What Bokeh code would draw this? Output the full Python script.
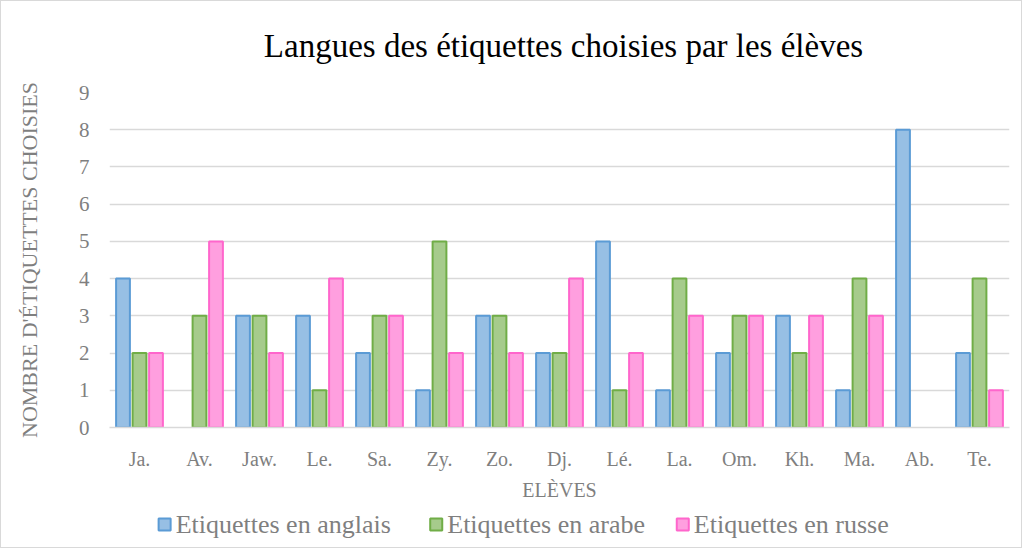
from bokeh.plotting import figure
from bokeh.models import ColumnDataSource, FactorRange
from bokeh.core.properties import value
from bokeh.layouts import column
from bokeh.transform import dodge
from bokeh.embed import file_html
from bokeh.resources import INLINE

eleves = ["Ja.", "Av.", "Jaw.", "Le.", "Sa.", "Zy.", "Zo.", "Dj.", "Lé.", "La.", "Om.", "Kh.", "Ma.", "Ab.", "Te."]
anglais = [4, 0, 3, 3, 2, 1, 3, 2, 5, 1, 2, 3, 1, 8, 2]
arabe = [2, 3, 3, 1, 3, 5, 3, 2, 1, 4, 3, 2, 4, 0, 4]
russe = [2, 5, 2, 4, 3, 2, 2, 4, 2, 3, 3, 3, 3, 0, 1]
series_names = ["Etiquettes en anglais", "Etiquettes en arabe", "Etiquettes en russe"]
title_text = "Langues des étiquettes choisies par les élèves"
y_ticks = list(range(0, 10))

FONT = "Liberation Serif"
GRAY = "#7f7f7f"
W = 1020
FRAME_X = (110, 1008)   # pixel span of the chart frame, shared by the strips

# ---- title strip ----
TH = 79
tf = figure(width=W, height=TH, output_backend="svg", toolbar_location=None,
            min_border=0, x_range=FRAME_X, y_range=(0, TH),
            x_axis_location=None, y_axis_location=None)
tf.grid.visible = False
tf.outline_line_color = None
tf.text(x=[264], y=[TH - 44], text=[title_text], text_font=value(FONT),
        text_font_size="33px", text_color="#000000",
        text_baseline="middle", text_align="left")

# ---- chart ----
p = figure(x_range=FactorRange(*eleves), y_range=(0, 9), width=W, height=423,
           output_backend="svg", toolbar_location=None,
           min_border_left=108, min_border_right=12, min_border_top=12, min_border_bottom=73)

fills = ["#97bfe4", "#a6cb8c", "#ff9fdf"]
lines = ["#5b9bd5", "#70ad47", "#ff66cc"]
offsets = [-0.275, 0.0, 0.275]

for vals, fc, lc, off in zip([anglais, arabe, russe], fills, lines, offsets):
    xs = [e for e, v in zip(eleves, vals) if v > 0]
    ys = [v for v in vals if v > 0]
    src = ColumnDataSource(dict(x=xs, top=ys))
    p.vbar(x=dodge("x", off, range=p.x_range), top="top", width=0.23, source=src,
           fill_color=fc, line_color=lc, line_width=2)

p.xgrid.grid_line_color = None
p.ygrid.grid_line_color = "#d9d9d9"
p.ygrid.grid_line_width = 1.5
p.outline_line_color = None

p.yaxis.ticker = y_ticks
p.yaxis.axis_line_color = None
p.yaxis.major_tick_line_color = None
p.yaxis.minor_tick_line_color = None
p.yaxis.major_label_text_font = FONT
p.yaxis.major_label_text_font_size = "21px"
p.yaxis.major_label_text_color = GRAY
p.yaxis.major_label_standoff = 14
p.yaxis.axis_label = "NOMBRE D'ÉTIQUETTES CHOISIES"
p.yaxis.axis_label_text_font = FONT
p.yaxis.axis_label_text_font_size = "22px"
p.yaxis.axis_label_text_font_style = "normal"
p.yaxis.axis_label_text_color = GRAY
p.yaxis.axis_label_standoff = 34

p.xaxis.axis_line_color = "#d9d9d9"
p.xaxis.axis_line_width = 1.5
p.xaxis.major_tick_line_color = None
p.xaxis.minor_tick_line_color = None
p.xaxis.major_label_text_font = FONT
p.xaxis.major_label_text_font_size = "20px"
p.xaxis.major_label_text_color = GRAY
p.xaxis.major_label_standoff = 14
p.xaxis.axis_label = "ELÈVES"
p.xaxis.axis_label_text_font = FONT
p.xaxis.axis_label_text_font_size = "20px"
p.xaxis.axis_label_text_font_style = "normal"
p.xaxis.axis_label_text_color = GRAY
p.xaxis.axis_label_standoff = 6

# ---- legend strip ----
LH = 44
lf = figure(width=W, height=LH, output_backend="svg", toolbar_location=None,
            min_border=0, x_range=FRAME_X, y_range=(0, LH),
            x_axis_location=None, y_axis_location=None)
lf.grid.visible = False
lf.outline_line_color = None

swatch_x = [165, 436, 682]
legend_y = 23
lf.rect(x=swatch_x, y=[legend_y] * 3, width=12, height=12,
        fill_color=fills, line_color=lines, line_width=2)
lf.text(x=[s + 11 for s in swatch_x], y=[legend_y] * 3, text=series_names,
        text_font=value(FONT), text_font_size="26px", text_color=GRAY,
        text_baseline="middle", text_align="left")

layout = column(tf, p, lf, spacing=0)
layout.styles = {"border": "1px solid #d9d9d9"}

open("out.html", "w").write(file_html(layout, INLINE))
